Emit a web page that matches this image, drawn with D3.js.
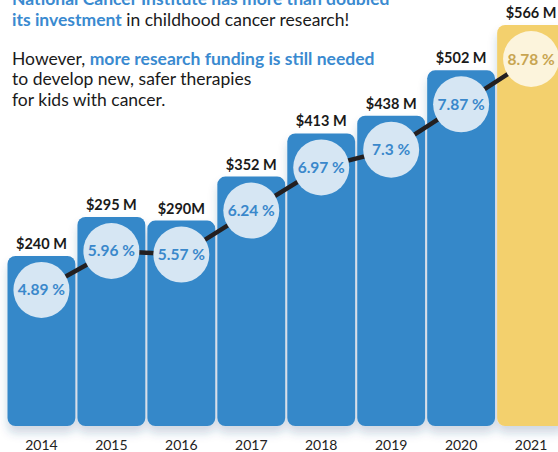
<!DOCTYPE html>
<html>
<head>
<meta charset="utf-8">
<script src="https://cdn.jsdelivr.net/npm/d3@7"></script>
<style>
  body { margin: 0; background: #fff; }
  svg { display: block; font-family: Lato, "Open Sans", sans-serif; }
</style>
</head>
<body>
<svg id="chart"></svg>
<script>
var years = ['2014', '2015', '2016', '2017', '2018', '2019', '2020', '2021'];
var funding = [240, 295, 290, 352, 413, 438, 502, 566];
var fundingLabels = ['$240 M', '$295 M', '$290M', '$352 M', '$413 M', '$438 M', '$502 M', '$566 M'];
var shares = [4.89, 5.96, 5.57, 6.24, 6.97, 7.3, 7.87, 8.78];

var width = 558, height = 452;
var baseY = 426;

var svg = d3.select('#chart')
  .attr('width', width)
  .attr('height', height);

// soft shadow under the bars
var defs = svg.append('defs');
var f = defs.append('filter').attr('id', 'shadow')
  .attr('x', '-10%').attr('y', '-10%').attr('width', '120%').attr('height', '130%');
f.append('feDropShadow')
  .attr('dx', 0).attr('dy', 7).attr('stdDeviation', 5)
  .attr('flood-color', '#1d4f7e').attr('flood-opacity', 0.22);

var x = d3.scaleBand()
  .domain(years)
  .range([7.5, 565])
  .paddingInner(0.03)
  .paddingOuter(0);

var y = d3.scaleLinear()
  .domain([0, 566])
  .range([baseY, 25]);

var isLast = function (d, i) { return i === years.length - 1; };

// bars
svg.append('g')
  .attr('filter', 'url(#shadow)')
  .selectAll('rect')
  .data(funding)
  .enter()
  .append('rect')
  .attr('x', function (d, i) { return x(years[i]); })
  .attr('y', function (d) { return y(d); })
  .attr('width', x.bandwidth())
  .attr('height', function (d) { return baseY - y(d); })
  .attr('rx', 8)
  .attr('fill', function (d, i) { return isLast(d, i) ? '#f3d06d' : '#3588c9'; });

// value labels above bars
svg.append('g')
  .selectAll('text')
  .data(funding)
  .enter()
  .append('text')
  .attr('x', function (d, i) { return x(years[i]) + x.bandwidth() / 2; })
  .attr('y', function (d) { return y(d) - 7; })
  .attr('text-anchor', 'middle')
  .attr('font-size', 14.5)
  .attr('font-weight', 700)
  .attr('fill', '#1a1a1a')
  .text(function (d, i) { return fundingLabels[i]; });

// percentage line + circles, sitting inside the bars
var cy = function (i) { return y(funding[i]) + 34; };
var cx = function (i) { return x(years[i]) + x.bandwidth() / 2; };

var line = d3.line()
  .x(function (d, i) { return cx(i); })
  .y(function (d, i) { return cy(i); });

svg.append('path')
  .datum(shares)
  .attr('d', line)
  .attr('fill', 'none')
  .attr('stroke', '#231f20')
  .attr('stroke-width', 4.5);

var dots = svg.append('g')
  .selectAll('g')
  .data(shares)
  .enter()
  .append('g');

dots.append('circle')
  .attr('cx', function (d, i) { return cx(i); })
  .attr('cy', function (d, i) { return cy(i); })
  .attr('r', 28)
  .attr('fill', function (d, i) { return isLast(d, i) ? '#fcf4dc' : '#d6e6f3'; });

dots.append('text')
  .attr('x', function (d, i) { return cx(i); })
  .attr('y', function (d, i) { return cy(i) + 5.5; })
  .attr('text-anchor', 'middle')
  .attr('font-size', 15.5)
  .attr('font-weight', 700)
  .attr('fill', function (d, i) { return isLast(d, i) ? '#c8a551' : '#3a88cb'; })
  .text(function (d) { return d + ' %'; });

// year axis
svg.append('g')
  .selectAll('text')
  .data(years)
  .enter()
  .append('text')
  .attr('x', function (d) { return x(d) + x.bandwidth() / 2; })
  .attr('y', 450)
  .attr('text-anchor', 'middle')
  .attr('font-size', 14)
  .attr('fill', '#222')
  .text(function (d) { return d; });

// heading text
var blue = '#3a8ad0';
var lines = [
  [['National Cancer Institute has more than doubled', true]],
  [['its investment', true], [' in childhood cancer research!', false]],
  [['However, ', false], ['more research funding is still needed', true]],
  [['to develop new, safer therapies', false]],
  [['for kids with cancer.', false]]
];
var baselines = [5, 26, 65, 85, 106];

lines.forEach(function (parts, li) {
  var t = svg.append('text')
    .attr('x', 12)
    .attr('y', baselines[li])
    .attr('font-size', 17.5);
  parts.forEach(function (p) {
    t.append('tspan')
      .attr('fill', p[1] ? blue : '#1a1a1a')
      .attr('font-weight', p[1] ? 700 : 400)
      .text(p[0]);
  });
});
</script>
</body>
</html>
